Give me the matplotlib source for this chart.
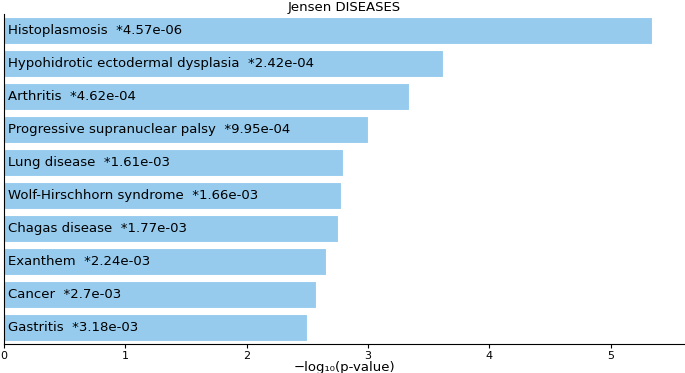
import numpy as np
import matplotlib
matplotlib.use("Agg")
import matplotlib.pyplot as plt

terms = ["Histoplasmosis", "Hypohidrotic ectodermal dysplasia", "Arthritis",
         "Progressive supranuclear palsy", "Lung disease", "Wolf-Hirschhorn syndrome",
         "Chagas disease", "Exanthem", "Cancer", "Gastritis"]
pvals = ["4.57e-06", "2.42e-04", "4.62e-04", "9.95e-04", "1.61e-03",
         "1.66e-03", "1.77e-03", "2.24e-03", "2.7e-03", "3.18e-03"]
scores = -np.log10(np.array(pvals, dtype=float))

fig, ax = plt.subplots(figsize=(6.85, 3.73), dpi=100)
fig.subplots_adjust(left=0.006, right=0.999, top=0.962, bottom=0.078)

y = np.arange(len(terms))
ax.barh(y, scores, height=0.82, color="#96cbee", edgecolor="white", linewidth=0.8)
for i in range(len(terms)):
    ax.text(0.03, y[i], terms[i] + "  *" + pvals[i], va="center", ha="left", fontsize=9.5)

ax.set_ylim(len(terms) - 0.5, -0.5)
ax.set_xlim(0, scores.max() * 1.05)
ax.set_yticks([])
ax.spines["top"].set_visible(False)
ax.spines["right"].set_visible(False)
ax.tick_params(axis="x", labelsize=8, length=3, pad=2)
ax.set_xlabel("\u2212log\u2081\u2080(p-value)", fontsize=9.5, labelpad=0)
ax.set_title("Jensen DISEASES", fontsize=9.5, pad=0.5)

fig.savefig("out.png", dpi=100)
